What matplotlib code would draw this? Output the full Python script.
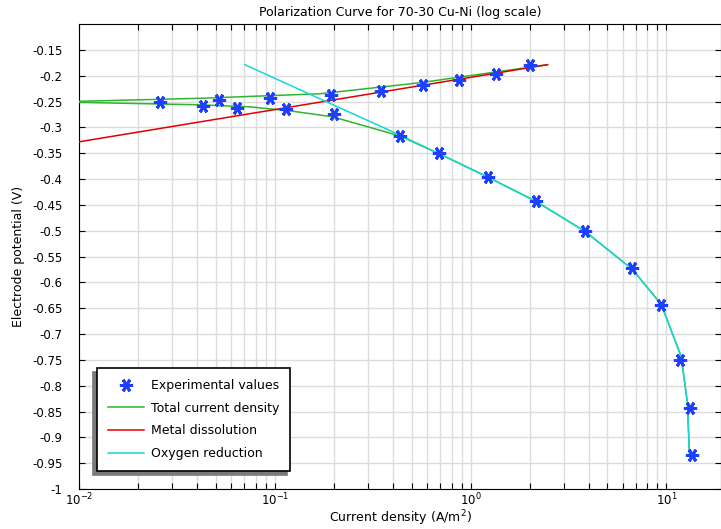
import matplotlib
matplotlib.use('Agg')
import matplotlib.pyplot as plt
from matplotlib.ticker import LogLocator, MultipleLocator, FormatStrFormatter

# experimental points (current density A/m^2, potential V)
expCurrent = [0.0259, 0.0428, 0.0520, 0.0643, 0.0943, 0.1138, 0.1946, 0.200, 0.347,
              0.434, 0.571, 0.689, 0.872, 1.22, 1.342, 2.0, 2.146, 3.84, 6.68,
              9.43, 11.80, 13.21, 13.52]
expPotential = [-0.251, -0.259, -0.247, -0.262, -0.243, -0.265, -0.238, -0.274, -0.229,
                -0.316, -0.219, -0.350, -0.209, -0.396, -0.196, -0.179, -0.443, -0.500,
                -0.573, -0.643, -0.751, -0.843, -0.934]

# total current density, anodic branch and cathodic branch
totalAnodicCurrent = [0.01, 0.0414, 0.170, 0.550, 2.47]
totalAnodicPotential = [-0.2496, -0.2438, -0.235, -0.2137, -0.1787]
totalCathodicCurrent = [0.01, 0.0414, 0.0745, 0.119, 0.198, 0.434, 0.695, 1.22, 2.146,
                        3.86, 6.71, 9.42, 11.9, 12.8, 13.1]
totalCathodicPotential = [-0.2516, -0.2564, -0.2603, -0.268, -0.2797, -0.3166, -0.3516,
                          -0.396, -0.4428, -0.502, -0.575, -0.643, -0.744, -0.833, -0.930]

# metal dissolution (Tafel line)
metalCurrent = [0.01, 2.47]
metalPotential = [-0.328, -0.1787]

# oxygen reduction
oxygenCurrent = [0.0703, 0.170, 0.434, 0.695, 1.22, 2.146, 3.86, 6.71, 9.42, 11.9, 12.8, 13.1]
oxygenPotential = [-0.1787, -0.2448, -0.3147, -0.3516, -0.396, -0.4428, -0.502, -0.575,
                   -0.643, -0.744, -0.833, -0.930]

green = '#2fb52f'
red = '#e00000'
cyan = '#18d6d6'
blue = '#1f3fff'

dpi = 100
fig = plt.figure(figsize=(7.21, 5.29), dpi=dpi)
ax = fig.add_axes([0.1096, 0.0756, 0.8904, 0.879])

ax.plot(totalAnodicCurrent, totalAnodicPotential, color=green, lw=1.1,
        label='Total current density', zorder=3)
ax.plot(totalCathodicCurrent, totalCathodicPotential, color=green, lw=1.1, zorder=3)
ax.plot(metalCurrent, metalPotential, color=red, lw=1.1, label='Metal dissolution', zorder=3)
ax.plot(oxygenCurrent, oxygenPotential, color=cyan, lw=1.1, label='Oxygen reduction', zorder=3)
ax.plot(expCurrent, expPotential, linestyle='none', marker=(6, 2, 30), markersize=9.5,
        markeredgewidth=2.1, color=blue, label='Experimental values', zorder=4)

ax.set_xscale('log')
ax.set_xlim(0.01, 19)
ax.set_ylim(-1, -0.1)
ax.yaxis.set_major_locator(MultipleLocator(0.05))
ax.yaxis.set_major_formatter(FormatStrFormatter('%g'))
ax.xaxis.set_major_locator(LogLocator(base=10))
ax.xaxis.set_minor_locator(LogLocator(base=10, subs=range(2, 10)))

# -0.1 label not shown at the top
ticks = [t for t in ax.get_yticks() if t < -0.12 and t >= -1.0001]
ax.set_yticks(ticks)

ax.grid(True, which='major', color='#dcdcdc', lw=1)
ax.grid(True, which='minor', axis='x', color='#dcdcdc', lw=1)
ax.set_axisbelow(True)

ax.tick_params(which='both', direction='in', top=True, right=True, labelsize=8.5)
ax.tick_params(which='major', length=4, width=0.8)
ax.tick_params(which='minor', length=4, width=0.8)
ax.tick_params(axis='y', pad=12)
ax.tick_params(axis='x', pad=2)

ax.set_title('Polarization Curve for 70-30 Cu-Ni (log scale)', fontsize=9, pad=6)
ax.set_xlabel('Current density (A/m$^2$)', fontsize=9, labelpad=0)
ax.set_ylabel('Electrode potential (V)', fontsize=9, labelpad=5)

handles, labels = ax.get_legend_handles_labels()
order = [3, 0, 1, 2]
leg = ax.legend([handles[i] for i in order], [labels[i] for i in order],
                loc='lower left', bbox_to_anchor=(0.028, 0.039), fontsize=9,
                fancybox=False, framealpha=1, edgecolor='black',
                borderpad=0.85, labelspacing=0.78, handlelength=2.9,
                handletextpad=0.6, borderaxespad=0,
                shadow={'ox': -2.7, 'oy': -2.7, 'facecolor': '#7a7a7a',
                        'edgecolor': '#7a7a7a', 'alpha': 1})
leg.get_frame().set_linewidth(1.2)

fig.savefig('out.png', dpi=dpi)
